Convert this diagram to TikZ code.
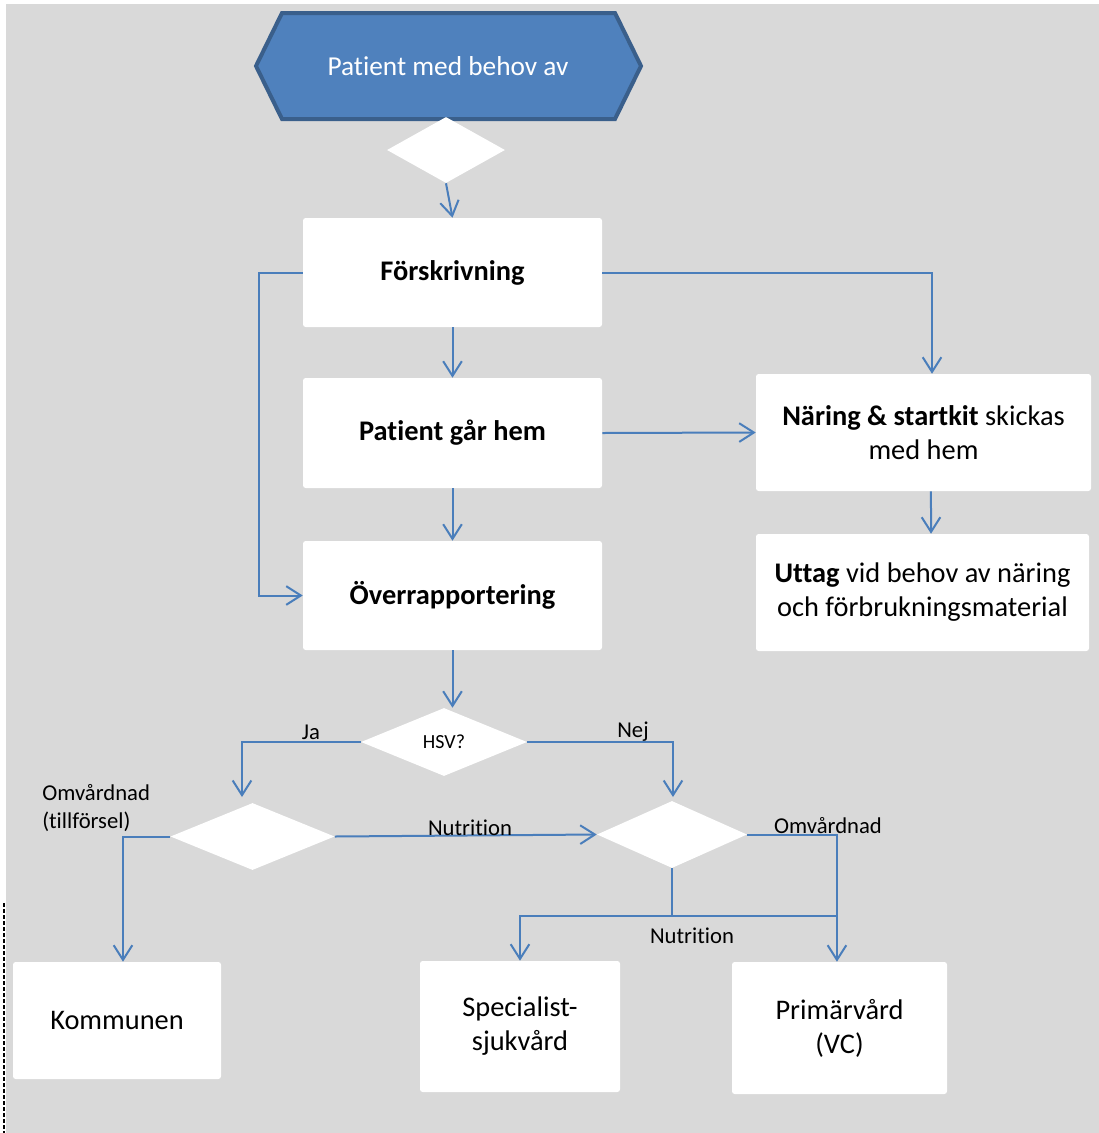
\documentclass[tikz,border=0pt]{standalone}
\usepackage{fontspec}
\setmainfont{Carlito}[RawFeature=-liga]
\usetikzlibrary{arrows.meta,shapes.geometric}
\definecolor{bg}{HTML}{D9D9D9}
\definecolor{hexfill}{HTML}{4F81BD}
\definecolor{hexline}{HTML}{3A5F8B}
\definecolor{cblue}{HTML}{4A7EBB}
\tikzset{
  box/.style={fill=white, rounded corners=2pt, align=center, inner sep=2pt, font=\fontsize{21.3}{25.5}\selectfont},
  dia/.style={diamond, fill=white, inner sep=0pt},
  line/.style={draw=cblue, line width=1.5pt},
  conn/.style={line, -{Straight Barb[length=11pt,width=14pt]}},
  lab/.style={font=\fontsize{17}{21}\selectfont, inner sep=0pt}
}
\begin{document}
\begin{tikzpicture}[x=0.75pt,y=-0.75pt]
\useasboundingbox (0,0) rectangle (1099,1133);
\fill[white] (0,0) rectangle (1099,1133);
\fill[bg] (6,4) rectangle (1099,1133);
\draw[black, line width=0.9pt, dash pattern=on 3pt off 1.5pt] (4,903) -- (4,1133);

% header hexagon
\draw[fill=hexfill, draw=hexline, line width=3pt, line join=miter]
  (282,13) -- (615,13) -- (641,66) -- (615,119) -- (282,119) -- (256,66) -- cycle;
\node[text=white, font=\fontsize{20.5}{24}\selectfont] (head) at (448,66) {Patient med behov av};

% diamonds
\node[dia, minimum width=88.5pt, minimum height=49.5pt] (d0) at (446,150) {};
\node[dia, minimum width=124.5pt, minimum height=51pt, font=\fontsize{15}{18}\selectfont] (hsv) at (444,742) {HSV?};
\node[dia, minimum width=123pt, minimum height=50.25pt] (ld) at (252.5,836.5) {};
\node[dia, minimum width=112.5pt, minimum height=50.25pt] (rd) at (672,834.5) {};

% boxes
\node[box, minimum width=224.25pt, minimum height=81.75pt] (fors) at (452.5,272.5) {\textbf{Förskrivning}};
\node[box, minimum width=224.25pt, minimum height=82.5pt] (hem) at (452.5,433) {\textbf{Patient går hem}};
\node[box, minimum width=224.25pt, minimum height=81.75pt] (over) at (452.5,595.5) {\textbf{Överrapportering}};
\node[box, minimum width=251.25pt, minimum height=87.75pt] (nar) at (923.5,432.5) {\textbf{Näring \& startkit} skickas\\med hem};
\node[box, minimum width=249.75pt, minimum height=87.75pt] (utt) at (922.5,592.5) {\textbf{Uttag} vid behov av näring\\och förbrukningsmaterial};
\node[box, minimum width=156pt, minimum height=87.75pt] (kom) at (117,1020.5) {Kommunen};
\node[box, minimum width=150pt, minimum height=98.25pt] (spec) at (520,1026.5) {Specialist-\\sjukvård};
\node[box, minimum width=161.25pt, minimum height=99pt] (prim) at (839.5,1028) {Primärvård\\(VC)};

% connectors
\draw[conn] (d0.south) -- (fors.north);
\draw[conn] (fors.south) -- (hem.north);
\draw[conn] (hem.south) -- (over.north);
\draw[conn] (fors.west) -- (259,272.5) |- (over.west);
\draw[conn] (fors.east) -| ([xshift=6.4pt]nar.north);
\draw[conn] (hem.east) -- (nar.west);
\draw[conn] ([xshift=5.6pt]nar.south) -- ([xshift=6.4pt]utt.north);
\draw[conn] (over.south) -- (over.south |- hsv.north);
\coordinate (jaend) at (242,797);
\coordinate (nejend) at (673,797);
\draw[conn] (hsv.west) -| (jaend);
\draw[conn] (hsv.east) -| (nejend);
\draw[conn] (ld.east) -- (rd.west);
\draw[conn] (ld.west) -| ([xshift=4.5pt]kom.north);
\draw[conn] (rd.east) -| ([xshift=-1.9pt]prim.north);
\coordinate (jn) at (672,916);
\coordinate (jr) at (837,916);
\draw[line] (rd.south) -- (jn);
\draw[line] (jn) -- (jr);
\draw[conn] (jn) -| (spec.north);

% labels
\node[lab] (lja) at (311,732) {Ja};
\node[lab] (lnej) at (633,732) {Nej};
\node[lab] (lnut1) at (470,828) {Nutrition};
\node[lab] (lomv) at (828,826) {Omvårdnad};
\node[lab] (lnut2) at (692,936) {Nutrition};
\node[lab, align=left, anchor=west] (lomvt) at (42,808) {Omvårdnad\\(tillförsel)};
\end{tikzpicture}
\end{document}
